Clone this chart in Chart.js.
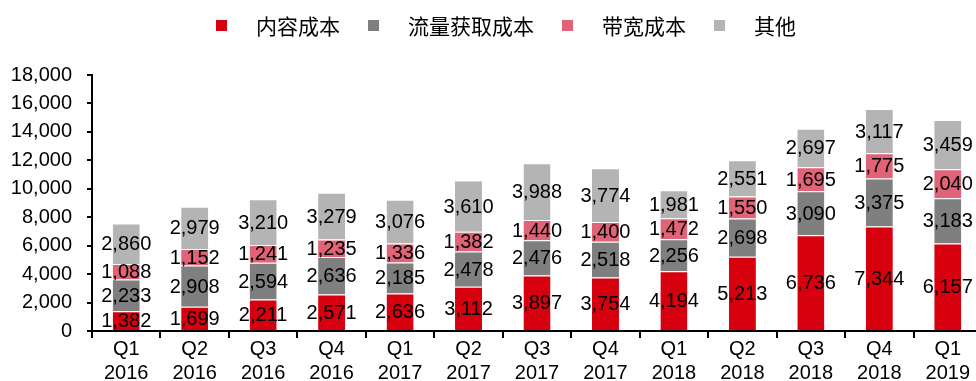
<!DOCTYPE html>
<html><head><meta charset="utf-8">
<script src="https://cdn.jsdelivr.net/npm/chart.js@4/dist/chart.umd.min.js"></script>
<style>
html,body{margin:0;padding:0;background:#fff}
#wrap{position:relative;width:976px;height:381px;overflow:hidden}
#c{position:absolute;left:0;top:0}
#legend{position:absolute;left:216px;top:11px;height:28px;display:flex;align-items:center;font-family:'Noto Sans CJK SC',sans-serif;font-size:21px;color:#000;white-space:nowrap}
#legend .box{width:11px;height:11px;display:inline-block;margin-right:29px}
#legend .txt{margin-right:28px;line-height:28px}
</style>
</head><body><div id="wrap"><canvas id="c" width="982" height="381"></canvas><div id="legend"></div></div>
<script>
const categories = [["Q1","2016"],["Q2","2016"],["Q3","2016"],["Q4","2016"],["Q1","2017"],["Q2","2017"],["Q3","2017"],["Q4","2017"],["Q1","2018"],["Q2","2018"],["Q3","2018"],["Q4","2018"],["Q1","2019"]];
const contentCost = [1382,1699,2211,2571,2636,3112,3897,3754,4194,5213,6736,7344,6157];
const trafficCost = [2233,2908,2594,2636,2185,2478,2476,2518,2256,2698,3090,3375,3183];
const bandwidthCost = [1088,1152,1241,1235,1336,1382,1440,1400,1472,1550,1695,1775,2040];
const otherCost = [2860,2979,3210,3279,3076,3610,3988,3774,1981,2551,2697,3117,3459];
const seriesNames = ["内容成本","流量获取成本","带宽成本","其他"];
const yTicks = [0,2000,4000,6000,8000,10000,12000,14000,16000,18000];

const FONT = "'Liberation Sans', Arial, sans-serif";
Chart.defaults.font.family = FONT;
const fmt = v => v.toLocaleString('en-US');
const colors = ["#D7000F","#7F7F7F","#E06377","#B4B4B4"];
const values = [contentCost, trafficCost, bandwidthCost, otherCost];

const labelPlugin = {
  id: 'segLabels',
  afterDatasetsDraw(chart) {
    const ctx = chart.ctx;
    ctx.save();
    ctx.font = "20px " + FONT;
    ctx.fillStyle = "#000";
    ctx.textAlign = "center";
    ctx.textBaseline = "middle";
    chart.data.datasets.forEach((ds, i) => {
      const meta = chart.getDatasetMeta(i);
      meta.data.forEach((el, j) => {
        ctx.fillText(fmt(ds.data[j]), el.x, (el.y + el.base) / 2 + 1);
      });
    });
    ctx.restore();
  }
};

// HTML legend built from series names and colours
const lg = document.getElementById('legend');
seriesNames.forEach((n, i) => {
  const b = document.createElement('span'); b.className = 'box'; b.style.background = colors[i];
  const t = document.createElement('span'); t.className = 'txt'; t.textContent = n;
  lg.appendChild(b); lg.appendChild(t);
});

new Chart(document.getElementById('c'), {
  type: 'bar',
  data: {
    labels: categories,
    datasets: seriesNames.map((n, i) => ({
      label: n, data: values[i], backgroundColor: colors[i],
      borderColor: '#ffffff', borderWidth: {top:1,bottom:0,left:0,right:0},
      barPercentage: 0.395, categoryPercentage: 1.0
    }))
  },
  options: {
    responsive: false, animation: false,
    devicePixelRatio: 1,
    layout: { padding: { left: 0, right: 0, top: 75, bottom: 0 } },
    plugins: { legend: { display: false }, tooltip: { enabled: false } },
    scales: {
      x: {
        stacked: true,
        afterFit: s => { s.height = 50; },
        grid: { display: true, drawOnChartArea: false, offset: true, tickLength: 7, color: '#000', lineWidth: 2 },
        border: { color: '#000', width: 2 },
        ticks: { font: { family: FONT, size: 20, lineHeight: 1.2 }, color: '#000', maxRotation: 0, autoSkip: false, padding: -1 }
      },
      y: {
        stacked: true, min: 0, max: 18000,
        afterFit: s => { s.width = 92; },
        afterBuildTicks: axis => { axis.ticks = yTicks.map(v => ({ value: v })); },
        grid: { display: true, drawOnChartArea: false, tickLength: 5, color: '#000', lineWidth: 2 },
        border: { color: '#000', width: 2 },
        ticks: { font: { family: FONT, size: 20 }, color: '#000', padding: 15, callback: v => fmt(v) }
      }
    }
  },
  plugins: [labelPlugin]
});
</script></body></html>
